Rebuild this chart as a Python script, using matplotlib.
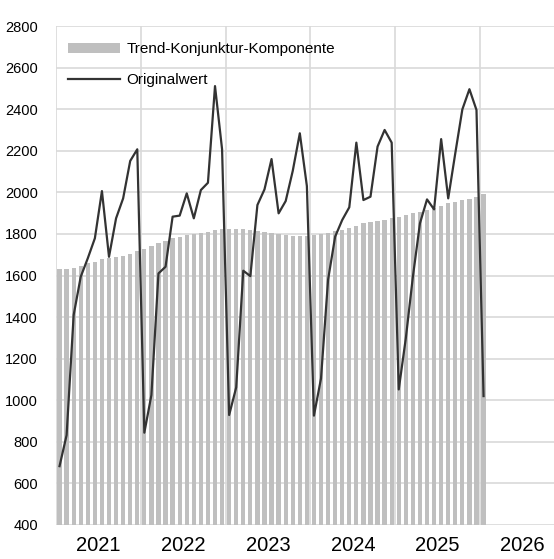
import numpy as np
import matplotlib
matplotlib.use("Agg")
import matplotlib.pyplot as plt

# monthly values, Jan 2021 .. Jan 2026
years = ["2021", "2022", "2023", "2024", "2025", "2026"]

trend = [1630, 1630, 1638, 1645, 1659, 1667, 1678, 1682, 1688, 1694, 1704, 1717,
         1728, 1742, 1757, 1768, 1779, 1787, 1794, 1800, 1805, 1811, 1819, 1822,
         1824, 1824, 1822, 1819, 1816, 1808, 1806, 1800, 1794, 1792, 1789, 1792,
         1794, 1798, 1803, 1813, 1821, 1829, 1838, 1851, 1859, 1864, 1869, 1875,
         1883, 1890, 1899, 1907, 1915, 1925, 1934, 1947, 1954, 1963, 1970, 1979,
         1990]

original = [683, 832, 1410, 1594, 1683, 1779, 2006, 1690, 1875, 1971, 2151, 2207,
            844, 1025, 1610, 1642, 1883, 1888, 1995, 1875, 2011, 2046, 2511, 2207,
            929, 1062, 1623, 1597, 1939, 2014, 2160, 1899, 1958, 2103, 2284, 2030,
            926, 1105, 1580, 1787, 1867, 1928, 2239, 1963, 1979, 2220, 2300, 2239,
            1052, 1298, 1594, 1851, 1966, 1918, 2256, 1971, 2188, 2399, 2496, 2396,
            1020]

plt.rcParams['font.family'] = ['Liberation Sans', 'DejaVu Sans']

fig = plt.figure(figsize=(5.54, 5.59), dpi=100)
ax = fig.add_axes([56 / 554, 1 - 525 / 559, 1 - 56 / 554, (525 - 26) / 559])

x = np.arange(len(trend)) + 0.5
bars = ax.bar(x, np.array(trend) - 400, bottom=400, width=0.6, color='#bfbfbf',
              label='Trend-Konjunktur-Komponente', zorder=2)
line, = ax.plot(x, original, color='#333333', lw=1.6, label='Originalwert', zorder=3)

ax.set_ylim(400, 2800)
ax.set_yticks(np.arange(400, 2801, 200))
ax.set_xlim(0, 498 / 7.067)
ax.set_xticks(np.arange(0, 61, 12))
ax.set_xticklabels([])
ax.set_xticks(np.arange(6, 67, 12), minor=True)
ax.set_xticklabels(years, minor=True, fontsize=14.5)

ax.grid(True, which='major', color='#d9d9d9', lw=1.2, zorder=0)
ax.set_axisbelow(True)
for s in ax.spines.values():
    s.set_visible(False)
ax.tick_params(axis='both', which='both', length=0)
ax.tick_params(axis='y', labelsize=10.5, pad=13)
ax.tick_params(axis='x', which='minor', pad=8)

ax.legend([bars, line], ['Trend-Konjunktur-Komponente', 'Originalwert'],
          loc='upper left', bbox_to_anchor=(-0.003, 0.995), frameon=False,
          fontsize=11, handlelength=3.4, handletextpad=0.4, labelspacing=1.1)

fig.savefig('out.png', dpi=100)
